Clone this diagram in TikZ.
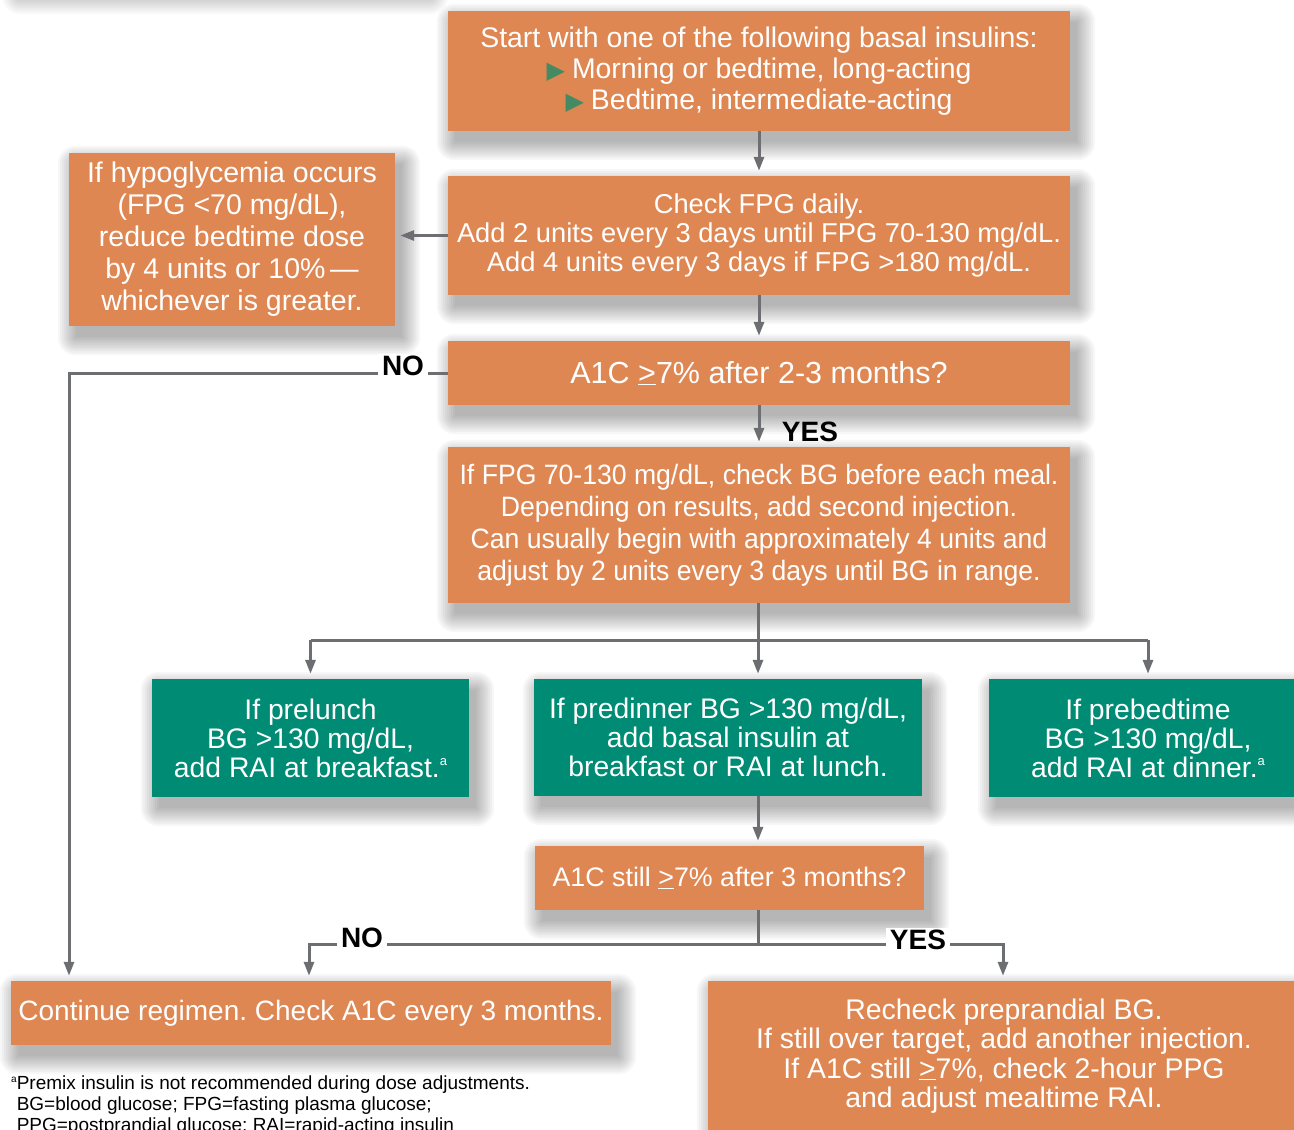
\documentclass[tikz,border=0pt]{standalone}
\usepackage{fontspec}
\setmainfont{Liberation Sans}
\newfontfamily\condensed{Liberation Sans}[FakeStretch=0.95]
\newfontfamily\dejavu{DejaVu Sans}
\usetikzlibrary{arrows.meta}
\definecolor{orangebox}{HTML}{DF8752}
\definecolor{greenbox}{HTML}{008B74}
\definecolor{bulletgreen}{HTML}{468A64}
\definecolor{linegray}{HTML}{6D6E71}
\newcommand{\bul}{{\dejavu\color{bulletgreen}\fontsize{24}{24}\selectfont ▶}\hspace{7pt}}
\newcommand{\ulge}{\underline{>}}
\newcommand{\supa}{\raisebox{0.75ex}{\fontsize{13}{13}\selectfont a}}
\frenchspacing
\pgfdeclarelayer{back}
\pgfdeclarelayer{shadowlayer}
\pgfsetlayers{back,shadowlayer,main}
\begin{document}
\begin{tikzpicture}[x=1pt,y=1pt,
  obox/.style={fill=orangebox,text=white,align=center,inner sep=0pt,font=\fontsize{28}{31}\selectfont},
  gbox/.style={fill=greenbox,text=white,align=center,inner sep=0pt,font=\fontsize{28.3}{29}\selectfont},
  wire/.style={draw=linegray,line width=3pt},
  conn/.style={wire,-{Triangle[width=10pt,length=14pt]},shorten >=5pt},
  lab/.style={font=\bfseries\fontsize{28}{28}\selectfont,text=black,inner xsep=4pt,inner ysep=2pt},
  shadowlayerstep/.style={fill=black,fill opacity=0.032}
]
\useasboundingbox (0,0) rectangle (1294,-1130);
\begin{pgfonlayer}{back}
\fill[white] (0,0) rectangle (1294,-1130);
\end{pgfonlayer}

\node[obox,minimum width=622pt,minimum height=120pt,font=\fontsize{28.4}{31}\selectfont] (start) at (759,-71)
  {Start with one of the following basal insulins:\\
   \bul Morning or bedtime, long-acting\\
   \bul Bedtime, intermediate-acting};
\node[obox,minimum width=622pt,minimum height=119pt,font=\fontsize{27.3}{29}\selectfont] (check) at (759,-235.5)
  {Check FPG daily.\\
   Add 2 units every 3 days until FPG 70-130 mg/dL.\\
   Add 4 units every 3 days if FPG >180 mg/dL.};
\node[obox,minimum width=326pt,minimum height=173pt,font=\fontsize{28.5}{32}\selectfont] (hypo) at (232,-239.5)
  {If hypoglycemia occurs\\
   (FPG <70 mg/dL),\\
   reduce bedtime dose\\
   by 4 units or 10\%\,—\\
   whichever is greater.};
\node[obox,minimum width=622pt,minimum height=64pt,font=\fontsize{30.5}{31}\selectfont] (a1c) at (759,-373)
  {A1C \ulge7\% after 2-3 months?};
\node[obox,minimum width=622pt,minimum height=156pt,font=\condensed\fontsize{28}{32}\selectfont] (fpg) at (759,-525)
  {If FPG 70-130 mg/dL, check BG before each meal.\\
   Depending on results, add second injection.\\
   Can usually begin with approximately 4 units and\\
   adjust by 2 units every 3 days until BG in range.};
\node[gbox,minimum width=317pt,minimum height=118pt] (g1) at (310.5,-738)
  {If prelunch\\ BG >130 mg/dL,\\ add RAI at breakfast.\supa};
\node[gbox,minimum width=388pt,minimum height=117pt] (g2) at (728,-737.5)
  {If predinner BG >130 mg/dL,\\ add basal insulin at\\ breakfast or RAI at lunch.};
\node[gbox,minimum width=318pt,minimum height=118pt] (g3) at (1148,-738)
  {If prebedtime\\ BG >130 mg/dL,\\ add RAI at dinner.\supa};
\node[obox,minimum width=389pt,minimum height=64pt,font=\fontsize{26.8}{31}\selectfont] (still) at (729.5,-878)
  {A1C still \ulge7\% after 3 months?};
\node[obox,minimum width=600pt,minimum height=64pt] (cont) at (311,-1013)
  {Continue regimen. Check A1C every 3 months.};
\node[obox,minimum width=592pt,minimum height=150pt,font=\fontsize{28.4}{29.5}\selectfont] (recheck) at (1004,-1056)
  {Recheck preprandial BG.\\
   If still over target, add another injection.\\
   If A1C still \ulge7\%, check 2-hour PPG\\
   and adjust mealtime RAI.};

\node[anchor=north west,align=left,inner sep=0pt,font=\fontsize{19}{21}\selectfont] (foot) at (11,-1076)
  {\raisebox{0.7ex}{\fontsize{10}{10}\selectfont a}Premix insulin is not recommended during dose adjustments.\\
   \hphantom{\fontsize{10}{10}\selectfont a}BG=blood glucose; FPG=fasting plasma glucose;\\
   \hphantom{\fontsize{10}{10}\selectfont a}PPG=postprandial glucose; RAI=rapid-acting insulin};

% soft drop shadows
\begin{pgfonlayer}{shadowlayer}
\foreach \n in {start,check,hypo,a1c,fpg,g1,g2,g3,still,cont,recheck} {
  \foreach \r in {0,2,...,18} {
    \fill[shadowlayerstep,rounded corners=\r pt]
      ([xshift={(7-\r)*1pt},yshift={(-11-\r)*1pt}]\n.south west) rectangle
      ([xshift={(7+\r)*1pt},yshift={(-11+\r)*1pt}]\n.north east);
  }
}
% shadow of a box above the visible area
\foreach \r in {0,2,...,18} {
  \fill[fill=black,fill opacity=0.022,rounded corners=\r pt]
    ({(20-\r)*1pt},{(4-\r)*1pt}) rectangle ({(430+\r)*1pt},{(200)*1pt});
}
\end{pgfonlayer}

% connectors
\coordinate (nocorner) at (69,-373);
\coordinate (bus) at (758,-640);
\coordinate (bus2) at (758,-944);
\coordinate (noleft) at (309,-944);
\coordinate (yesright) at (1003,-944);

\draw[conn] (start) -- (check);
\draw[conn] (check.west) -- (check.west -| hypo.east);
\draw[conn] (check) -- (a1c);
\draw[conn] (a1c.west) -- (nocorner) -- (nocorner |- cont.north);
\node[lab,fill=white] (no1) at (403,-366) {NO};
\draw[conn] (a1c) -- (fpg);
\node[lab] (yes1) at (810,-432) {YES};

\draw[wire] (bus |- fpg.south) -- (bus);
\draw[wire] (g1.north |- bus) -- (g3.north |- bus);
\draw[conn] (g1.north |- bus) -- (g1.north);
\draw[conn] (bus) -- (bus |- g2.north);
\draw[conn] (g3.north |- bus) -- (g3.north);

\draw[conn] (bus |- g2.south) -- (bus |- still.north);
\draw[wire] (bus |- still.south) -- (bus2);
\draw[conn] (bus2) -- (noleft) -- (noleft |- cont.north);
\draw[conn] (bus2) -- (yesright) -- (yesright |- recheck.north);
\node[lab,fill=white] (no2) at (362,-938) {NO};
\node[lab,fill=white] (yes2) at (918,-940) {YES};
\end{tikzpicture}
\end{document}
